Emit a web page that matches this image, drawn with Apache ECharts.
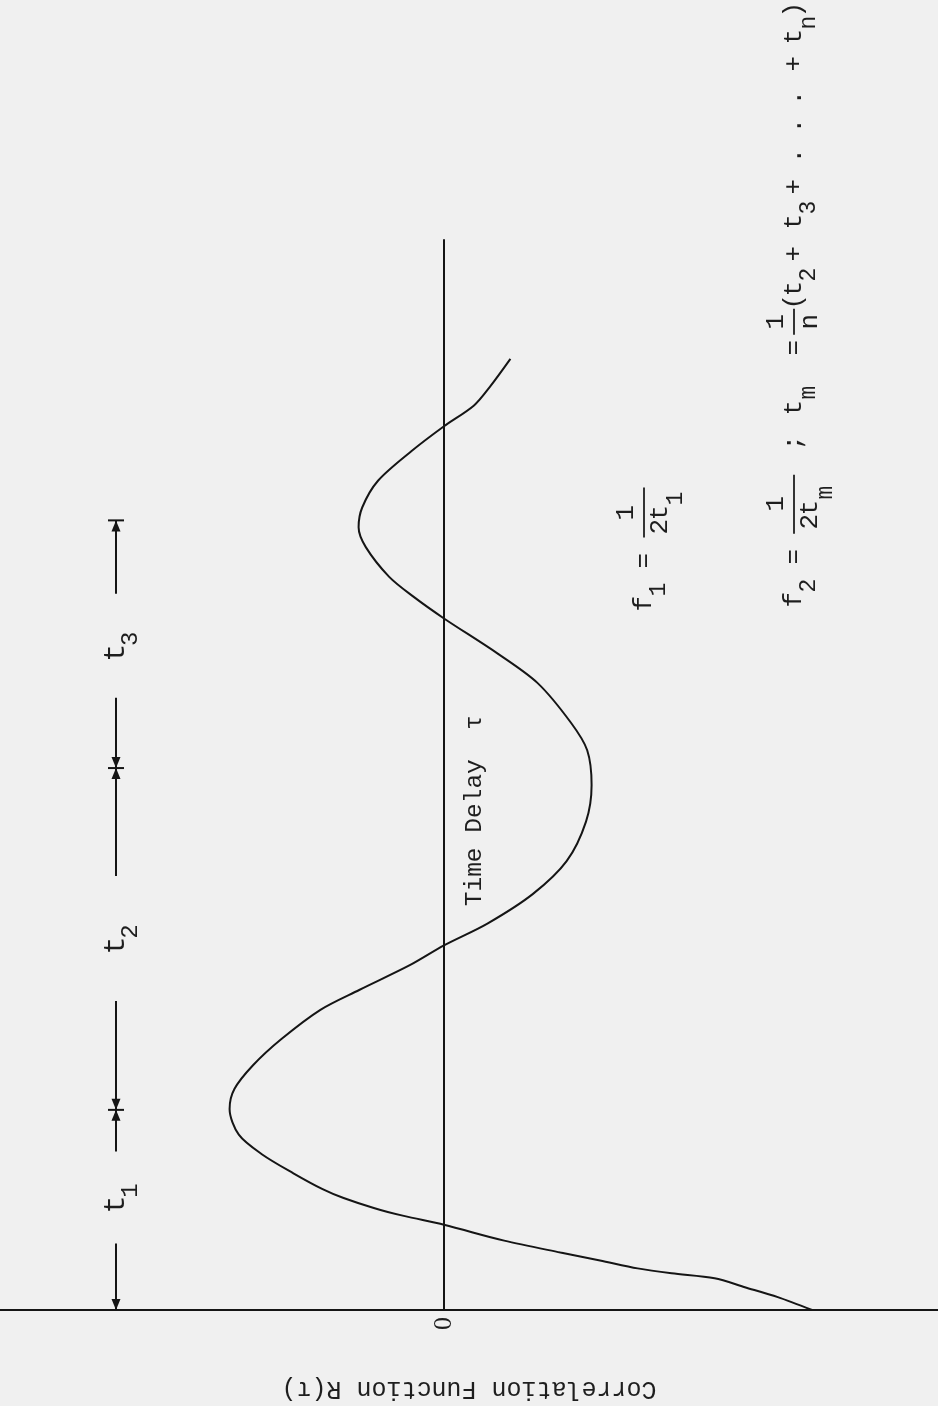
<!DOCTYPE html>
<html>
<head>
<meta charset="utf-8">
<script src="https://cdn.jsdelivr.net/npm/echarts@6/dist/echarts.min.js"></script>
<style>
  html, body { margin: 0; padding: 0; background: #f0f0f0; }
  #chart { width: 938px; height: 1406px; }
</style>
</head>
<body>
<div id="chart"></div>
<script>
// Correlation function R(τ) against time delay τ.
// The delay axis runs up the page (τ = 0 on the baseline), R is positive to the left.
const tau = [0, 0.065, 0.115, 0.16, 0.185, 0.21, 0.25, 0.29, 0.35, 0.43,
             0.475, 0.515, 0.565, 0.61, 0.69, 0.785, 0.885, 1.015, 1.115, 1.235,
             1.365, 1.515, 1.615, 1.74, 1.84, 1.95, 2.10, 2.265, 2.465, 2.65,
             2.825, 2.965, 3.165, 3.315, 3.49, 3.6, 3.7, 3.85, 3.95, 4.05,
             4.185, 4.335, 4.46, 4.565, 4.665, 4.8];
const corr = [-1.84, -1.669, -1.504, -1.353, -1.138, -0.968, -0.78, -0.582, -0.301, 0,
              0.201, 0.351, 0.502, 0.607, 0.753, 0.909, 1.026, 1.072, 1.048, 0.955,
              0.816, 0.618, 0.424, 0.171, 0, -0.217, -0.445, -0.613, -0.710, -0.738,
              -0.716, -0.634, -0.467, -0.265, 0, 0.153, 0.274, 0.391, 0.427, 0.409,
              0.33, 0.162, 0, -0.15, -0.234, -0.332];

// Tick labels on the R axis
const rTickValues = [0];

// Interval markers t1, t2, t3 between the zero delay and successive extrema
const intervalNames = ['1', '2', '3'];
const intervalStops = [1.01, 2.735, 3.985];
const dimSegments = [[0.335, 0], [0.80, 1.01], [1.56, 1.01], [2.19, 2.735], [3.09, 2.735], [3.615, 3.985]];
const dimR = 1.64;

const axisTitleR = 'Correlation Function R(τ)';
const axisTitleTau = 'Time Delay  τ';

const ink = '#151515';
const textInk = '#1e1e1e';
const MONO = '"Liberation Mono", "DejaVu Sans Mono", monospace';

const chart = echarts.init(document.getElementById('chart'), null, { renderer: 'canvas' });

function txt(x, y, text, size) {
  return {
    type: 'text', x: x, y: y,
    style: { text: text, font: size + 'px ' + MONO, fill: textInk, align: 'center', verticalAlign: 'middle' }
  };
}

const option = {
  backgroundColor: '#f0f0f0',
  animation: false,
  grid: { left: 0, right: 0, top: 240, bottom: 86, containLabel: false },
  xAxis: {
    type: 'value', inverse: true, min: -2.47, max: 2.22,
    axisLine: { show: true, onZero: true, lineStyle: { color: ink, width: 2 } },
    axisTick: { show: false },
    splitLine: { show: false },
    axisLabel: {
      customValues: rTickValues, rotate: 90, margin: 7,
      fontFamily: '"Liberation Serif", serif', fontSize: 26, color: textInk,
      formatter: v => String(v)
    },
    name: axisTitleR, nameLocation: 'middle', nameGap: 66, nameRotate: 180,
    nameTextStyle: { fontFamily: MONO, fontSize: 25, color: textInk }
  },
  yAxis: {
    type: 'value', min: 0, max: 5.4,
    axisLine: { show: true, onZero: true, lineStyle: { color: ink, width: 2 } },
    axisTick: { show: false },
    splitLine: { show: false },
    axisLabel: { show: false }
  },
  series: [
    {
      name: 'R(τ)', type: 'line', smooth: 0.3, showSymbol: false,
      data: tau.map((t, i) => [corr[i], t]),
      lineStyle: { color: ink, width: 2 }
    },
    {
      // dimension arrows along the left margin
      type: 'custom', clip: false,
      data: dimSegments.map(s => [dimR, s[0], s[1]]),
      encode: { x: 0, y: 1 },
      renderItem: function (params, api) {
        const a = api.coord([api.value(0), api.value(1)]);
        const b = api.coord([api.value(0), api.value(2)]);
        const dir = b[1] > a[1] ? 1 : -1;
        return {
          type: 'group',
          children: [
            { type: 'line', shape: { x1: a[0], y1: a[1], x2: b[0], y2: b[1] }, style: { stroke: ink, lineWidth: 2 } },
            { type: 'polygon', shape: { points: [[b[0], b[1]], [b[0] - 4.5, b[1] - dir * 11], [b[0] + 4.5, b[1] - dir * 11]] }, style: { fill: ink } }
          ]
        };
      }
    },
    {
      // short cross bars where one interval ends and the next begins
      type: 'custom', clip: false,
      data: intervalStops.map(t => [dimR, t]),
      encode: { x: 0, y: 1 },
      renderItem: function (params, api) {
        const p = api.coord([api.value(0), api.value(1)]);
        return { type: 'line', shape: { x1: p[0] - 8, y1: p[1], x2: p[0] + 8, y2: p[1] }, style: { stroke: ink, lineWidth: 2 } };
      }
    },
    {
      // interval names t1, t2, t3 in the gaps of the dimension line
      type: 'custom', clip: false,
      data: intervalNames.map((n, i) => [dimR, (dimSegments[2 * i][0] + dimSegments[2 * i + 1][0]) / 2]),
      encode: { x: 0, y: 1 },
      renderItem: function (params, api) {
        const p = api.coord([api.value(0), api.value(1)]);
        return {
          type: 'group', x: p[0], y: p[1], rotation: Math.PI / 2,
          children: [txt(-7, 0, 't', 30), txt(7, 15, intervalNames[params.dataIndex], 24)]
        };
      }
    },
    {
      // delay axis title written along the zero line
      type: 'custom', clip: false,
      data: [[-0.155, 2.52]],
      encode: { x: 0, y: 1 },
      renderItem: function (params, api) {
        const p = api.coord([api.value(0), api.value(1)]);
        return {
          type: 'group', x: p[0], y: p[1], rotation: Math.PI / 2,
          children: [txt(0, 0, axisTitleTau, 24.5)]
        };
      }
    }
  ]
};

chart.setOption(option);

// Frequency relations, typed along the right side of the sheet
const MAIN = 26, SUB = 23;
const formula1 = [
  [0, 0, 'f'], [14, 15, '1', 1], [43, 0, '='],
  [91, -18, '1'], [77, 16, '2'], [91, 16, 't'], [105, 32, '1', 1]
];
const formula1Bars = [[66, 116]];
const formula2 = [
  [0, 0, 'f'], [14, 15, '2', 1], [43, 0, '='],
  [96, -18, '1'], [78, 16, '2'], [92, 16, 't'], [107, 32, 'm', 1],
  [157, 0, ';'],
  [192, 0, 't'], [207, 15, 'm', 1], [252, 0, '='],
  [278, -18, '1'], [278, 16, 'n'],
  [298, 0, '('], [311, 0, 't'], [325, 15, '2', 1], [346, 0, '+'],
  [378, 0, 't'], [392, 15, '3', 1], [413, 0, '+'],
  [444, 0, '.'], [474, 0, '.'], [502, 0, '.'],
  [536, 0, '+'], [563, 0, 't'], [577, 15, 'n', 1], [590, 0, ')']
];
const formula2Bars = [[66, 125], [265, 291]];

function formulaGroup(anchor, pieces, bars) {
  const p = chart.convertToPixel({ gridIndex: 0 }, anchor);
  const children = pieces.map(q => txt(q[0], q[1], q[2], q[3] ? SUB : MAIN));
  bars.forEach(b => children.push({
    type: 'line', shape: { x1: b[0], y1: 0, x2: b[1], y2: 0 },
    style: { stroke: textInk, lineWidth: 1.8 }
  }));
  return { type: 'group', x: p[0], y: p[1], rotation: Math.PI / 2, children: children };
}

chart.setOption({
  graphic: [
    formulaGroup([-1.0, 3.565], formula1, formula1Bars),
    formulaGroup([-1.75, 3.585], formula2, formula2Bars)
  ]
});
</script>
</body>
</html>
